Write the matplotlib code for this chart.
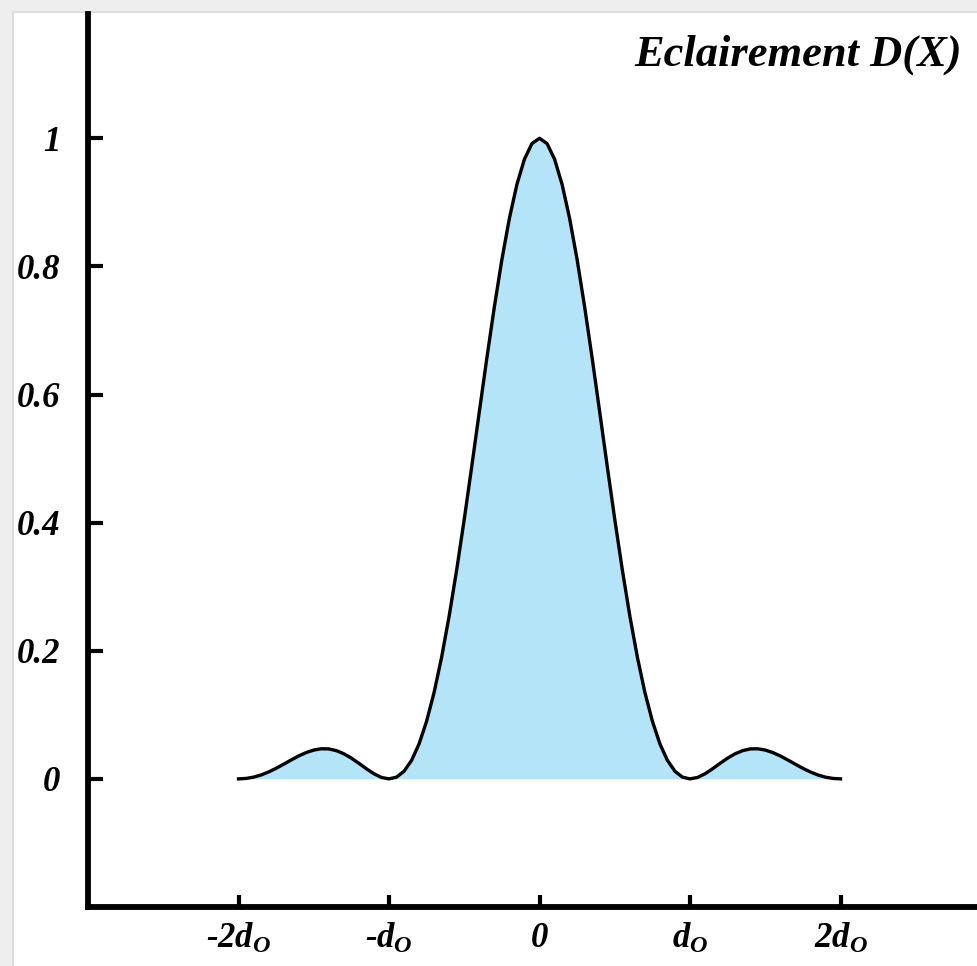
import matplotlib.pyplot as plt
from matplotlib.patches import Rectangle

# positions en unités de d0 et éclairement relatif
x_pos = [-2.0, -1.95, -1.9, -1.85, -1.8, -1.75, -1.7, -1.65, -1.6, -1.55,
         -1.5, -1.45, -1.4, -1.35, -1.3, -1.25, -1.2, -1.15, -1.1, -1.05,
         -1.0, -0.95, -0.9, -0.85, -0.8, -0.75, -0.7, -0.65, -0.6, -0.55,
         -0.5, -0.45, -0.4, -0.35, -0.3, -0.25, -0.2, -0.15, -0.1, -0.05,
         0.0, 0.05, 0.1, 0.15, 0.2, 0.25, 0.3, 0.35, 0.4, 0.45,
         0.5, 0.55, 0.6, 0.65, 0.7, 0.75, 0.8, 0.85, 0.9, 0.95,
         1.0, 1.05, 1.1, 1.15, 1.2, 1.25, 1.3, 1.35, 1.4, 1.45,
         1.5, 1.55, 1.6, 1.65, 1.7, 1.75, 1.8, 1.85, 1.9, 1.95, 2.0]
eclairement = [0.0, 0.0007, 0.0027, 0.0061, 0.0108, 0.0165, 0.0229, 0.0295, 0.0358, 0.0411,
               0.0450, 0.0470, 0.0468, 0.0441, 0.0392, 0.0324, 0.0243, 0.0158, 0.0080, 0.0022,
               0.0, 0.0027, 0.0119, 0.0289, 0.0547, 0.0901, 0.1353, 0.1904, 0.2546, 0.3267,
               0.4053, 0.4881, 0.5728, 0.6566, 0.7368, 0.8106, 0.8751, 0.9281, 0.9675, 0.9918,
               1.0, 0.9918, 0.9675, 0.9281, 0.8751, 0.8106, 0.7368, 0.6566, 0.5728, 0.4881,
               0.4053, 0.3267, 0.2546, 0.1904, 0.1353, 0.0901, 0.0547, 0.0289, 0.0119, 0.0027,
               0.0, 0.0022, 0.0080, 0.0158, 0.0243, 0.0324, 0.0392, 0.0441, 0.0468, 0.0470,
               0.0450, 0.0411, 0.0358, 0.0295, 0.0229, 0.0165, 0.0108, 0.0061, 0.0027, 0.0007, 0.0]

y_ticks = [0, 0.2, 0.4, 0.6, 0.8, 1]
y_labels = ["0", "0.2", "0.4", "0.6", "0.8", "1"]
x_ticks = [-2, -1, 0, 1, 2]
x_labels = ["-2$d_O$", "-$d_O$", "0", "$d_O$", "2$d_O$"]

plt.rcParams["font.family"] = "Liberation Serif"
plt.rcParams["font.weight"] = "bold"
plt.rcParams["font.style"] = "italic"
plt.rcParams["mathtext.fontset"] = "custom"
plt.rcParams["mathtext.it"] = "Liberation Serif:bold:italic"
plt.rcParams["mathtext.rm"] = "Liberation Serif:bold:italic"

fig = plt.figure(figsize=(9.77, 9.66), dpi=100, facecolor="#eeeeee")

# fond : carte blanche avec une petite ombre à gauche et en haut
bg = fig.add_axes([0, 0, 1, 1], zorder=-1)
bg.set_axis_off()
bg.set_xlim(0, 977)
bg.set_ylim(966, 0)
bg.add_patch(Rectangle((12, 11), 977, 966, facecolor="#dcdcdc", edgecolor="none"))
bg.add_patch(Rectangle((14, 13), 977, 966, facecolor="white", edgecolor="none"))

ax = fig.add_axes([88 / 977, 1 - 907 / 966, 903 / 977, 893 / 966])
ax.set_facecolor("none")
ax.fill_between(x_pos, eclairement, 0, color="#b3e4f8", linewidth=0)
ax.plot(x_pos, eclairement, color="black", linewidth=2.4)

ax.set_xlim(-3, 3)
ax.set_ylim(-0.2, 1.194)
for s in ["top", "right"]:
    ax.spines[s].set_visible(False)
for s in ["left", "bottom"]:
    ax.spines[s].set_linewidth(4.2)

ax.set_yticks(y_ticks)
ax.set_yticklabels(y_labels)
ax.set_xticks(x_ticks)
ax.set_xticklabels(x_labels)
ax.tick_params(axis="y", direction="in", length=11, width=3, pad=20, labelsize=25)
ax.tick_params(axis="x", direction="in", length=9, width=3, pad=11, labelsize=25)

fig.text(962 / 977, 1 - 55 / 966, "Eclairement D(X)", ha="right", va="center",
         fontsize=32, fontweight="bold", fontstyle="italic")

fig.savefig("out.png", dpi=100, facecolor=fig.get_facecolor())
